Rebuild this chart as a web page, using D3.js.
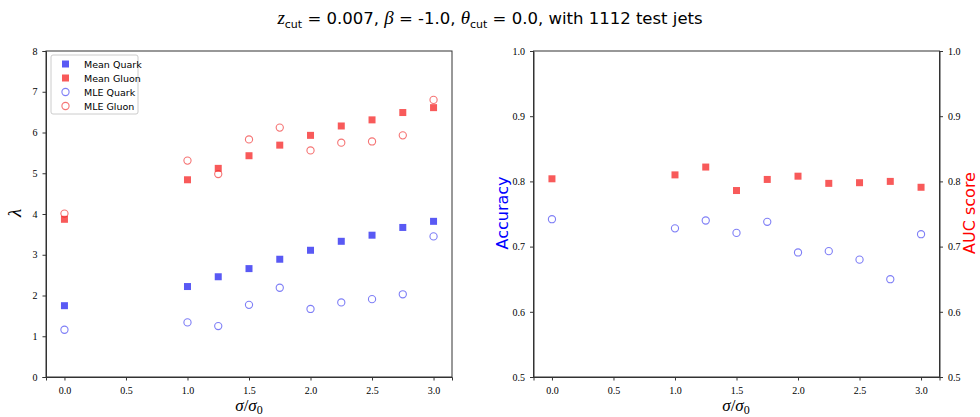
<html>
<head>
<script src="https://d3js.org/d3.v7.min.js"></script>
<style>
  body { margin: 0; background: white; }
  svg text { fill: black; }
  .tick text { font-family: "Liberation Serif", serif; font-size: 10px; }
  .tick line, .domain { stroke: #333; }
</style>
</head>
<body>
<svg width="980" height="417"></svg>
<script>
// sigma / sigma_0 values
var sigmas = [0.0, 1.0, 1.25, 1.5, 1.75, 2.0, 2.25, 2.5, 2.75, 3.0];

// left panel: lambda
var meanQuark = [1.75, 2.22, 2.46, 2.66, 2.89, 3.11, 3.33, 3.48, 3.67, 3.82];
var meanGluon = [3.87, 4.84, 5.12, 5.43, 5.69, 5.93, 6.16, 6.31, 6.49, 6.61];
var mleQuark  = [1.16, 1.34, 1.25, 1.77, 2.19, 1.67, 1.83, 1.91, 2.03, 3.45];
var mleGluon  = [4.01, 5.31, 4.98, 5.83, 6.12, 5.56, 5.75, 5.78, 5.93, 6.80];

// right panel
var accuracy = [0.742, 0.728, 0.740, 0.721, 0.738, 0.691, 0.693, 0.680, 0.650, 0.719];
var aucScore = [0.804, 0.810, 0.822, 0.786, 0.803, 0.808, 0.797, 0.798, 0.800, 0.791];

var xTicks = [0.0, 0.5, 1.0, 1.5, 2.0, 2.5, 3.0];
var lambdaTicks = [0, 1, 2, 3, 4, 5, 6, 7, 8];
var scoreTicks = [0.5, 0.6, 0.7, 0.8, 0.9, 1.0];
var legendLabels = ["Mean Quark", "Mean Gluon", "MLE Quark", "MLE Gluon"];

var blue = "rgba(0,0,238,0.65)";
var red = "rgba(245,20,20,0.7)";
var blueLine = "rgba(40,40,240,0.6)";
var redLine = "rgba(240,40,40,0.65)";

var svg = d3.select("svg");
var top_ = 51, bottom = 377;

// title
var title = svg.append("text")
  .attr("x", 490).attr("y", 24)
  .attr("text-anchor", "middle")
  .style("font-family", "DejaVu Sans, sans-serif")
  .style("font-size", "16.5px");
title.append("tspan").style("font-family", "Liberation Serif, serif").style("font-style", "italic").style("font-size", "19px").text("z");
title.append("tspan").attr("dy", 4).style("font-size", "11px").text("cut");
title.append("tspan").attr("dy", -4).text(" = 0.007, ");
title.append("tspan").style("font-family", "Liberation Serif, serif").style("font-style", "italic").style("font-size", "19px").text("β");
title.append("tspan").text(" = -1.0, ");
title.append("tspan").style("font-family", "Liberation Serif, serif").style("font-style", "italic").style("font-size", "19px").text("θ");
title.append("tspan").attr("dy", 4).style("font-size", "11px").text("cut");
title.append("tspan").attr("dy", -4).text(" = 0.0, with 1112 test jets");

function squares(g, x, y, vals, color) {
  g.selectAll(null).data(sigmas).enter().append("rect")
    .attr("x", function (d) { return x(d) - 3.5; })
    .attr("y", function (d, i) { return y(vals[i]) - 3.5; })
    .attr("width", 7).attr("height", 7)
    .attr("fill", color);
}
function circles(g, x, y, vals, color) {
  g.selectAll(null).data(sigmas).enter().append("circle")
    .attr("cx", function (d) { return x(d); })
    .attr("cy", function (d, i) { return y(vals[i]); })
    .attr("r", 3.6)
    .attr("fill", "none")
    .attr("stroke", color)
    .attr("stroke-width", 1.1);
}
function xLabel(cx) {
  var t = svg.append("text")
    .attr("x", cx).attr("y", 411)
    .attr("text-anchor", "middle")
    .style("font-family", "Liberation Serif, serif")
    .style("font-style", "italic")
    .style("font-size", "17px");
  t.append("tspan").text("σ");
  t.append("tspan").style("font-style", "normal").text("/");
  t.append("tspan").text("σ");
  t.append("tspan").attr("dy", 3).style("font-style", "normal").style("font-size", "12px").text("0");
}

// ---------- left panel ----------
var x1 = d3.scaleLinear().domain([-0.15, 3.15]).range([46, 452]);
var y1 = d3.scaleLinear().domain([0, 8]).range([bottom, top_]);

var g1 = svg.append("g");
g1.append("g").attr("transform", "translate(0," + bottom + ")")
  .call(d3.axisBottom(x1).tickValues(xTicks).tickFormat(d3.format(".1f")).tickSizeOuter(0).tickSize(3.5).tickPadding(6));
g1.append("g").attr("transform", "translate(46,0)")
  .call(d3.axisLeft(y1).tickValues(lambdaTicks).tickFormat(d3.format("d")).tickSizeOuter(0).tickSize(3.5).tickPadding(5));
g1.append("rect").attr("x", 46).attr("y", top_).attr("width", 406).attr("height", bottom - top_)
  .attr("fill", "none").attr("stroke", "#333").attr("stroke-width", 1);

squares(g1, x1, y1, meanQuark, blue);
squares(g1, x1, y1, meanGluon, red);
circles(g1, x1, y1, mleQuark, blueLine);
circles(g1, x1, y1, mleGluon, redLine);

svg.append("text")
  .attr("transform", "translate(21,213) rotate(-90)")
  .attr("text-anchor", "middle")
  .style("font-family", "Liberation Serif, serif")
  .style("font-style", "italic")
  .style("font-size", "19px")
  .text("λ");
xLabel(249);

// legend
var leg = svg.append("g").attr("transform", "translate(51,55)");
leg.append("rect").attr("width", 87).attr("height", 59).attr("rx", 2)
  .attr("fill", "white").attr("stroke", "#ccc");
var legendStyles = [["sq", blue], ["sq", red], ["ci", blueLine], ["ci", redLine]];
legendLabels.forEach(function (lab, i) {
  var cy = 9 + i * 14;
  if (legendStyles[i][0] === "sq") {
    leg.append("rect").attr("x", 11).attr("y", cy - 3.5).attr("width", 7).attr("height", 7).attr("fill", legendStyles[i][1]);
  } else {
    leg.append("circle").attr("cx", 14.5).attr("cy", cy).attr("r", 3.6).attr("fill", "none")
      .attr("stroke", legendStyles[i][1]).attr("stroke-width", 1.1);
  }
  leg.append("text").attr("x", 33).attr("y", cy + 3.5)
    .style("font-family", "DejaVu Sans, sans-serif").style("font-size", "9.5px")
    .text(lab);
});

// ---------- right panel ----------
var x2 = d3.scaleLinear().domain([-0.15, 3.15]).range([533.5, 939.5]);
var y2 = d3.scaleLinear().domain([0.5, 1.0]).range([bottom, top_]);

var g2 = svg.append("g");
g2.append("g").attr("transform", "translate(0," + bottom + ")")
  .call(d3.axisBottom(x2).tickValues(xTicks).tickFormat(d3.format(".1f")).tickSizeOuter(0).tickSize(3.5).tickPadding(6));
g2.append("g").attr("transform", "translate(533.5,0)")
  .call(d3.axisLeft(y2).tickValues(scoreTicks).tickFormat(d3.format(".1f")).tickSizeOuter(0).tickSize(3.5).tickPadding(5));
g2.append("g").attr("transform", "translate(939.5,0)")
  .call(d3.axisRight(y2).tickValues(scoreTicks).tickFormat(d3.format(".1f")).tickSizeOuter(0).tickSize(3.5).tickPadding(5));
g2.append("rect").attr("x", 533.5).attr("y", top_).attr("width", 406).attr("height", bottom - top_)
  .attr("fill", "none").attr("stroke", "#333").attr("stroke-width", 1);

circles(g2, x2, y2, accuracy, blueLine);
squares(g2, x2, y2, aucScore, red);

svg.append("text")
  .attr("transform", "translate(508,213) rotate(-90)")
  .attr("text-anchor", "middle")
  .style("font-family", "DejaVu Sans, sans-serif")
  .style("font-size", "16px")
  .style("fill", "blue")
  .text("Accuracy");
svg.append("text")
  .attr("transform", "translate(975,213) rotate(-90)")
  .attr("text-anchor", "middle")
  .style("font-family", "DejaVu Sans, sans-serif")
  .style("font-size", "16px")
  .style("fill", "red")
  .text("AUC score");
xLabel(736);
</script>
</body>
</html>
